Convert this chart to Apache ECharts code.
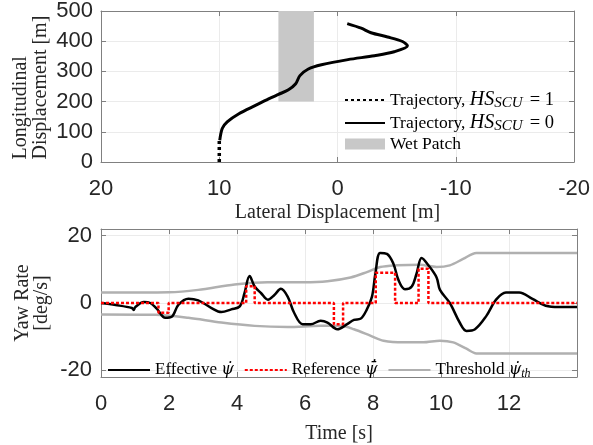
<!DOCTYPE html>
<html><head><meta charset="utf-8">
<script src="https://cdn.jsdelivr.net/npm/echarts@6/dist/echarts.min.js"></script>
<style>html,body{margin:0;padding:0;background:#fff}#c{width:593px;height:445px}</style>
</head><body><div id="c"></div>
<script>
// ---- Top panel data (lateral x [m], longitudinal y [m]) ----
const trajHS1Lat = [10, 10];
const trajHS1Lon = [0, 72];
const trajHS0Lat = [9.96, 9.75, 9.33, 8.34, 6.94, 5.83, 4.99, 4.15, 3.54, 3.18, 2.47, 1.36, -0.88, -3.12, -4.79, -5.91, -5.49, -4.23, -2.83, -2.0, -0.82];
const trajHS0Lon = [72, 111, 133, 160, 187.5, 209, 224, 239, 259, 286, 308, 322, 339, 352, 365, 385, 399, 414, 428, 443, 458];
const wetPatchLat = [5, 2];
const wetPatchLon = [200, 500];
const latTicks = [20, 10, 0, -10, -20];
const lonTicks = [0, 100, 200, 300, 400, 500];

// ---- Bottom panel data (time [s], yaw rate [deg/s]) ----
const effT = [0,0.43,0.91,0.96,1.01,1.26,1.45,1.64,1.89,2.08,2.28,2.57,2.86,3.25,3.54,3.83,4.08,4.22,4.37,4.52,4.71,4.91,5.1,5.29,5.49,5.68,5.93,6.17,6.46,6.66,6.95,7.24,7.44,7.63,7.82,7.97,8.07,8.21,8.41,8.6,8.75,8.94,9.14,9.28,9.43,9.63,9.87,9.97,10.26,10.55,10.75,11.0,11.33,11.62,11.91,12.3,12.69,13.08,13.47,14];
const effV = [0,-0.6,-1.5,-2.1,-1.2,0.3,0,-1.7,-4.4,-4.1,-0.5,1.3,0.8,-1.5,-2.7,-1.9,-1.0,2.9,8.0,4.9,2.9,1.0,2.4,4.2,1.9,-2.9,-6.3,-6.3,-5.3,-5.8,-7.8,-6.3,-5.0,-4.7,-1.9,1.9,8.7,14.9,14.6,11.7,6.8,4.1,4.9,8.7,13.4,11.2,7.6,3.9,0,-5.8,-8.3,-7.8,-3.9,1.0,3.1,3.1,1.2,-0.8,-1.2,-1.2];
const refT = [0,1.69,1.69,1.99,1.99,4.27,4.27,4.52,4.52,6.85,6.85,7.12,7.12,8.08,8.08,8.65,8.65,9.34,9.34,9.63,9.63,14];
const refV = [0,0,-2.9,-2.9,0,0,5,5,0,0,-6.3,-6.3,0,0,9,9,0,0,10.2,10.2,0,0];
const thUpT = [0,2,2.86,3.93,4.9,5.98,6.66,7.34,7.82,8.21,8.7,9.38,9.87,10.26,10.65,11.04,14];
const thUpV = [3.1,3.2,3.9,5.5,6.2,6.2,6.5,7.6,9.2,10.7,11.2,11.4,10.7,11.2,13.1,14.9,14.9];
const thLoT = [0,1.6,2.57,3.54,4.52,5.49,6.46,7.05,7.44,7.92,8.31,8.9,9.48,9.97,10.36,10.75,11.04,14];
const thLoV = [-3.4,-3.5,-4.4,-5.8,-6.8,-7.1,-6.8,-6.8,-7.8,-9.7,-11.2,-11.7,-11.7,-11.2,-11.7,-13.6,-15.0,-15.0];
const timeTicks = [0, 2, 4, 6, 8, 10, 12];
const yawTicks = [-20, 0, 20];

const zip = (a, b) => a.map((v, i) => [v, b[i]]);

const SANS = 'Liberation Sans';
const SERIF = 'Liberation Serif';
const GREEK = 'DejaVu Serif';
const AX = '#808080', GRID = '#ebebeb', TXT = '#262626';
const TITLE_FS = 20;

function mkAxis(extra) {
  return Object.assign({
    axisLine: { show: true, onZero: false, lineStyle: { color: AX, width: 1 } },
    axisTick: { show: true, inside: true, length: 5, lineStyle: { color: AX } },
    splitLine: { show: true, lineStyle: { color: GRID, width: 1 } },
    axisLabel: { color: TXT, fontFamily: SANS, fontSize: 22 },
    nameMoveOverlap: false,
    nameTextStyle: { color: TXT, fontFamily: SERIF, fontSize: TITLE_FS }
  }, extra);
}
function mkMirror(extra) {
  return Object.assign({
    axisLine: { show: true, onZero: false, lineStyle: { color: AX, width: 1 } },
    axisTick: { show: true, inside: true, length: 5, lineStyle: { color: AX } },
    splitLine: { show: false },
    axisLabel: { show: false }
  }, extra);
}

const richCommon = {
  t: { fontFamily: SERIF, fontSize: 17.5, lineHeight: 20, color: '#000' },
  e: { fontFamily: SERIF, fontSize: 18.5, lineHeight: 20, color: '#000', padding: [0, 0, 0, 6] },
  i: { fontFamily: SERIF, fontSize: 20, lineHeight: 20, fontStyle: 'italic', color: '#000' },
  s: { fontFamily: SERIF, fontSize: 15, lineHeight: 14, fontStyle: 'italic', color: '#000', padding: [7, 1, 0, 0] },
  bt: { fontFamily: SERIF, fontSize: 17, lineHeight: 20, color: '#000' },
  bi: { fontFamily: GREEK, fontSize: 16, lineHeight: 20, fontStyle: 'italic', color: '#000' },
  bs: { fontFamily: SERIF, fontSize: 12, lineHeight: 12, fontStyle: 'italic', color: '#000', padding: [8, 0, 0, 0] }
};
const legendText = {
  'HS1': '{t|Trajectory, }{i|HS}{s|SCU}{e|= 1}',
  'HS0': '{t|Trajectory, }{i|HS}{s|SCU}{e|= 0}',
  'Wet Patch': '{t|Wet Patch}',
  'Effective': '{bt|Effective }{bi|\u03C8\u0307}',
  'Reference': '{bt|Reference }{bi|\u03C8\u0304\u0307}',
  'Threshold': '{bt|Threshold }{bi|\u03C8\u0307}{bs|th}'
};

const option = {
  animation: false,
  backgroundColor: '#fff',
  grid: [
    { left: 101, right: 15, top: 10, height: 152, containLabel: false },
    { left: 101, right: 16, top: 229, height: 151, containLabel: false }
  ],
  xAxis: [
    mkAxis({ type: 'value', gridIndex: 0, min: -20, max: 20, interval: 10, inverse: true,
      name: 'Lateral Displacement [m]', nameLocation: 'middle', nameGap: 41,
      axisLabel: { color: TXT, fontFamily: SANS, fontSize: 22, margin: 16 } }),
    mkAxis({ type: 'value', gridIndex: 1, min: 0, max: 14, interval: 2,
      name: 'Time [s]', nameLocation: 'middle', nameGap: 47,
      axisLabel: { color: TXT, fontFamily: SANS, fontSize: 22, margin: 16, showMaxLabel: false } }),
    mkMirror({ type: 'value', gridIndex: 0, position: 'top', min: -20, max: 20, interval: 10, inverse: true }),
    mkMirror({ type: 'value', gridIndex: 1, position: 'top', min: 0, max: 14, interval: 2 })
  ],
  yAxis: [
    mkAxis({ type: 'value', gridIndex: 0, min: 0, max: 500, interval: 100,
      name: '{a|Longitudinal}\n{a|Displacement [m]}', nameLocation: 'middle', nameGap: 50, nameRotate: 90,
      nameTextStyle: { rich: { a: { fontFamily: SERIF, fontSize: TITLE_FS, lineHeight: 20, width: 146, align: 'left', color: TXT } } },
      axisLabel: { color: TXT, fontFamily: SANS, fontSize: 22, margin: 8 } }),
    mkAxis({ type: 'value', gridIndex: 1, min: -22, max: 22,
      name: 'Yaw Rate\n[deg/s]', nameLocation: 'middle', nameGap: 50, nameRotate: 90,
      nameTextStyle: { color: TXT, fontFamily: SERIF, fontSize: TITLE_FS, lineHeight: 19 },
      axisTick: { show: true, inside: true, length: 5, lineStyle: { color: AX }, customValues: yawTicks },
      axisLabel: { color: TXT, fontFamily: SANS, fontSize: 22, margin: 9, customValues: yawTicks } }),
    mkMirror({ type: 'value', gridIndex: 0, position: 'right', min: 0, max: 500, interval: 100 }),
    mkMirror({ type: 'value', gridIndex: 1, position: 'right', min: -22, max: 22,
      axisTick: { show: true, inside: true, length: 5, lineStyle: { color: AX }, customValues: yawTicks } })
  ],
  legend: [
    { orient: 'vertical', left: 344, top: 89, itemWidth: 40, itemHeight: 11, itemGap: 1,
      backgroundColor: 'transparent', padding: 0, itemStyle: { opacity: 0 },
      data: [{ name: 'HS1' }, { name: 'HS0' },
             { name: 'Wet Patch', icon: 'rect', itemStyle: { color: '#c8c8c8', opacity: 1 } }],
      formatter: n => legendText[n], textStyle: { rich: richCommon } },
    { orient: 'horizontal', left: 107, top: 360, itemWidth: 42, itemHeight: 12, itemGap: 10, padding: 0,
      itemStyle: { opacity: 0 },
      data: ['Effective', 'Reference', 'Threshold'],
      formatter: n => legendText[n], textStyle: { rich: richCommon } }
  ],
  series: [
    { name: 'Wet Patch', type: 'line', xAxisIndex: 0, yAxisIndex: 0, data: [], z: 1,
      itemStyle: { color: '#c8c8c8' },
      markArea: { silent: true, itemStyle: { color: '#c8c8c8', opacity: 1 },
        data: [[{ coord: [wetPatchLat[0], wetPatchLon[0]] }, { coord: [wetPatchLat[1], wetPatchLon[1]] }]] } },
    { name: 'HS1', type: 'line', xAxisIndex: 0, yAxisIndex: 0, data: zip(trajHS1Lat, trajHS1Lon),
      symbol: 'none', z: 3, color: '#000', lineStyle: { color: '#000', width: 3.5, type: [3, 3] } },
    { name: 'HS0', type: 'line', xAxisIndex: 0, yAxisIndex: 0, data: zip(trajHS0Lat, trajHS0Lon),
      symbol: 'none', z: 3, smooth: 0.3, color: '#000', lineStyle: { color: '#000', width: 3 } },
    { name: 'Threshold', type: 'line', xAxisIndex: 1, yAxisIndex: 1, data: zip(thUpT, thUpV),
      symbol: 'none', z: 2, smooth: 0.3, color: '#b0b0b0', lineStyle: { color: '#b0b0b0', width: 2.5 } },
    { name: 'Threshold', type: 'line', xAxisIndex: 1, yAxisIndex: 1, data: zip(thLoT, thLoV),
      symbol: 'none', z: 2, smooth: 0.3, color: '#b0b0b0', lineStyle: { color: '#b0b0b0', width: 2.5 } },
    { name: 'Effective', type: 'line', xAxisIndex: 1, yAxisIndex: 1, data: zip(effT, effV),
      symbol: 'none', z: 3, smooth: 0.35, color: '#000', lineStyle: { color: '#000', width: 2.5 } },
    { name: 'Reference', type: 'line', xAxisIndex: 1, yAxisIndex: 1, data: zip(refT, refV),
      symbol: 'none', z: 4, color: '#ff0000', lineStyle: { color: '#ff0000', width: 2.5, type: [3, 2] } }
  ]
};
const chart = echarts.init(document.getElementById('c'), null, { renderer: 'canvas' });
chart.setOption(option);
</script></body></html>
